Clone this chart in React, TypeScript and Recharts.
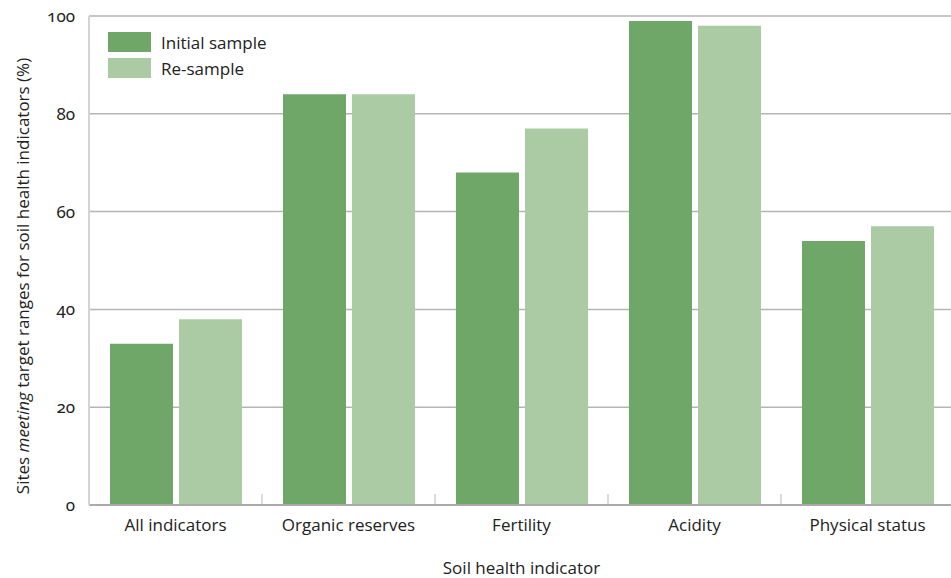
import { Bar, BarChart, CartesianGrid, Legend, XAxis, YAxis } from "recharts";

const categories = ["All indicators", "Organic reserves", "Fertility", "Acidity", "Physical status"];
const initialSample = [33, 84, 68, 99, 54];
const reSample = [38, 84, 77, 98, 57];
const yTicks = [0, 20, 40, 60, 80, 100];

const DARK = "#6fa768";
const LIGHT = "#aacba4";
const FONT = "'Open Sans', sans-serif";
const NUM_FONT = "'Noto Sans', sans-serif";

const data = categories.map((name, i) => ({
  name,
  initial: initialSample[i],
  resample: reSample[i],
}));

function LegendBox() {
  const items = [
    { label: "Initial sample", color: DARK },
    { label: "Re-sample", color: LIGHT },
  ];
  return (
    <div style={{ fontFamily: FONT, fontSize: 17, color: "#222" }}>
      {items.map((it) => (
        <div key={it.label} style={{ display: "flex", alignItems: "center", height: 26 }}>
          <span style={{ width: 43, height: 20, background: it.color, display: "inline-block", marginRight: 10 }} />
          <span>{it.label}</span>
        </div>
      ))}
    </div>
  );
}

function YLabel() {
  return (
    <text
      transform="translate(29,276) rotate(-90)"
      textAnchor="middle"
      fontFamily={FONT}
      fontSize={17}
      fill="#222"
    >
      Sites <tspan fontStyle="italic">meeting</tspan> target ranges for soil health indicators (%)
    </text>
  );
}

// label under the category + short separator mark at the left edge of its band
function CategoryTick(props: any) {
  const { x, y, payload, index } = props;
  const half = payload?.offset ?? 0;
  return (
    <g>
      {index > 0 && (
        <line x1={x - half} x2={x - half} y1={y - 11} y2={y - 1} stroke="#d0d0d0" strokeWidth={1.5} />
      )}
      <text x={x} y={y + 14} dy="0.71em" textAnchor="middle" fontFamily={FONT} fontSize={17} fill="#222">
        {payload.value}
      </text>
    </g>
  );
}

export default function App() {
  return (
    <div style={{ position: "fixed", left: 0, top: 0, width: 951, height: 578, overflow: "hidden", background: "#fff" }}>
      <BarChart
        width={954}
        height={578}
        data={data}
        margin={{ top: 16, right: 0, bottom: 0, left: 0 }}
        barCategoryGap={21}
        barGap={6}
      >
        <CartesianGrid vertical={false} stroke="#b5b5b5" strokeWidth={1.5} />
        <XAxis
          dataKey="name"
          height={73}
          tickLine={false}
          tickSize={0}
          tickMargin={0}
          interval={0}
          axisLine={{ stroke: "#aaa", strokeWidth: 2 }}
          tick={<CategoryTick />}
          label={{ value: "Soil health indicator", position: "insideBottom", offset: 4, fontFamily: FONT, fontSize: 17, fill: "#222" }}
        />
        <YAxis
          width={89}
          domain={[0, 100]}
          ticks={yTicks}
          tickLine={false}
          tickSize={0}
          tickMargin={14}
          axisLine={{ stroke: "#d4d4d4", strokeWidth: 2 }}
          tick={{ fontFamily: NUM_FONT, fontSize: 17, fill: "#222", style: { fontVariantNumeric: "oldstyle-nums" } }}
          label={<YLabel />}
        />
        <Legend
          layout="vertical"
          align="center"
          verticalAlign="middle"
          wrapperStyle={{ left: 108, top: 29, width: "auto" }}
          content={<LegendBox />}
        />
        <Bar dataKey="initial" name="Initial sample" fill={DARK} isAnimationActive={false} />
        <Bar dataKey="resample" name="Re-sample" fill={LIGHT} isAnimationActive={false} />
      </BarChart>
    </div>
  );
}
